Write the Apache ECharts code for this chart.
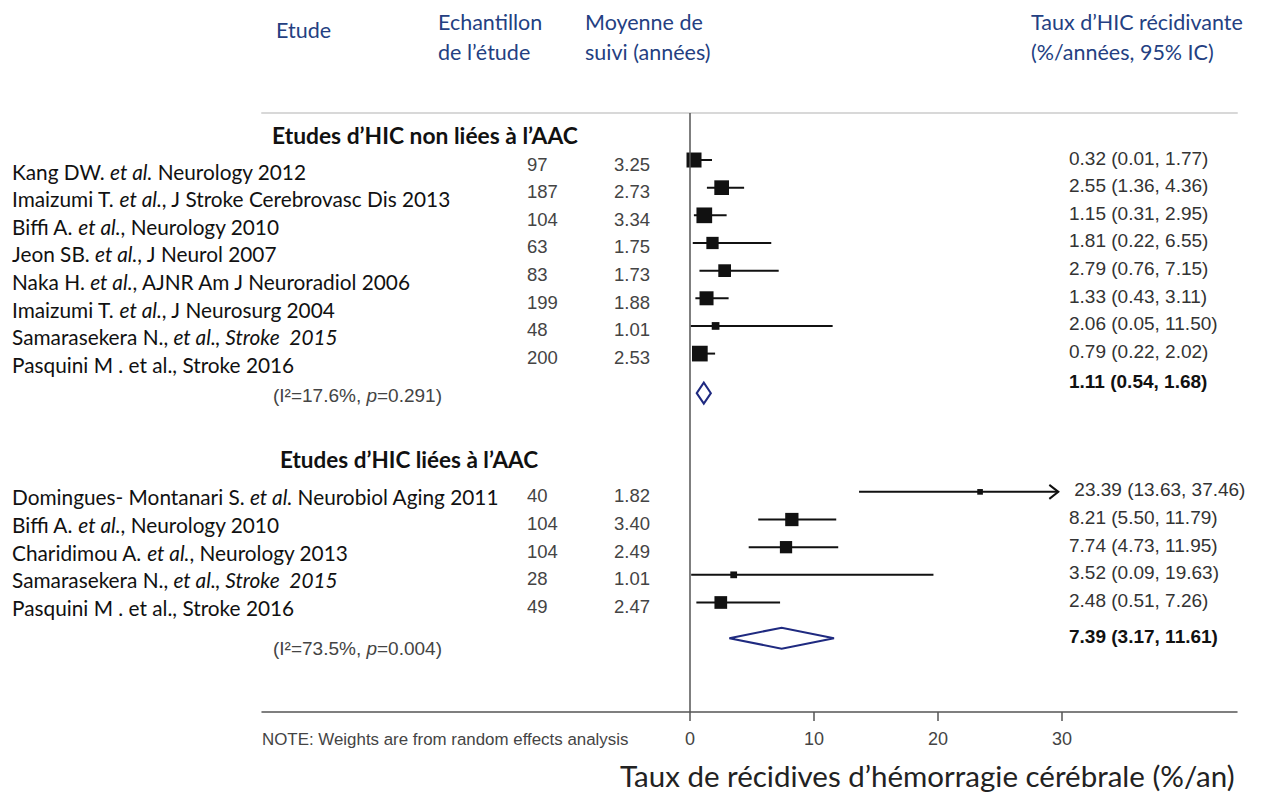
<!DOCTYPE html>
<html><head><meta charset="utf-8">
<script src="https://cdn.jsdelivr.net/npm/echarts@6/dist/echarts.min.js"></script>
<style>html,body{margin:0;padding:0;background:#fff}#c{width:1263px;height:794px}</style>
</head><body><div id="c"></div>
<script>
// ---------------- DATA ----------------
const nonCaaStudies = [
  'Kang DW. {i|et al.} Neurology 2012',
  'Imaizumi T. {i|et al.}, J Stroke Cerebrovasc Dis 2013',
  'Biffi A. {i|et al.}, Neurology 2010',
  'Jeon SB. {i|et al.}, J Neurol 2007',
  'Naka H. {i|et al.}, AJNR Am J Neuroradiol 2006',
  'Imaizumi T. {i|et al.}, J Neurosurg 2004',
  'Samarasekera N., {i|et al., Stroke  2015}',
  'Pasquini M . et al., Stroke 2016'
];
const nonCaaN = [97, 187, 104, 63, 83, 199, 48, 200];
const nonCaaFollowUp = [3.25, 2.73, 3.34, 1.75, 1.73, 1.88, 1.01, 2.53];
const nonCaaRate = [0.32, 2.55, 1.15, 1.81, 2.79, 1.33, 2.06, 0.79];
const nonCaaLow  = [0.01, 1.36, 0.31, 0.22, 0.76, 0.43, 0.05, 0.22];
const nonCaaHigh = [1.77, 4.36, 2.95, 6.55, 7.15, 3.11, 11.50, 2.02];
const nonCaaWeight = [14.8, 14.2, 16.2, 9.9, 10.6, 12.9, 3.9, 16.2];
const nonCaaPooled = [1.11, 0.54, 1.68];
const nonCaaI2 = 17.6;
const nonCaaP = '0.291';

const caaStudies = [
  'Domingues- Montanari S. {i|et al.} Neurobiol Aging 2011',
  'Biffi A. {i|et al.}, Neurology 2010',
  'Charidimou A. {i|et al.}, Neurology 2013',
  'Samarasekera N., {i|et al., Stroke  2015}',
  'Pasquini M . et al., Stroke 2016'
];
const caaN = [40, 104, 104, 28, 49];
const caaFollowUp = [1.82, 3.40, 2.49, 1.01, 2.47];
const caaRate = [23.39, 8.21, 7.74, 3.52, 2.48];
const caaLow  = [13.63, 5.50, 4.73, 0.09, 0.51];
const caaHigh = [37.46, 11.79, 11.95, 19.63, 7.26];
const caaWeight = [2.1, 11.6, 9.9, 3.0, 10.6];
const caaPooled = [7.39, 3.17, 11.61];
const caaI2 = 73.5;
const caaP = '0.004';

const axisTickValues = [0, 10, 20, 30];

// ---------------- LAYOUT ----------------
const SERIF = 'Lato, "Open Sans", sans-serif';
const ARIAL = '"Liberation Sans", Arial, sans-serif';
const NAVY = '#243f82';
const L = {
  gridLeft: 262, gridRight: 26, gridTop: 113, gridBottom: 82,
  xMin: -34.52, xMax: 44.11, yMin: -1.7, yMax: 19.96,
  clipMax: 29.7, sizeK: 3.9, diamondH: 21,
  colLabel: 12, colN: 527, colFU: 614, colCI: 1069, colHet: 273,
  labelFont: 20.8, ciFont: 19, numFont: 18.5
};
const groups = [
  {studies: nonCaaStudies, n: nonCaaN, fu: nonCaaFollowUp, rate: nonCaaRate, low: nonCaaLow, high: nonCaaHigh,
   w: nonCaaWeight, pooled: nonCaaPooled, i2: nonCaaI2, p: nonCaaP,
   firstRow: 0, pooledRow: 8.43, labelDy: 11, numDy: 4, sumDy: -12, hetDy: 2},
  {studies: caaStudies, n: caaN, fu: caaFollowUp, rate: caaRate, low: caaLow, high: caaHigh,
   w: caaWeight, pooled: caaPooled, i2: caaI2, p: caaP,
   firstRow: 12, pooledRow: 17.29, labelDy: 5, numDy: 4, sumDy: -2, hetDy: 10}
];

const studyData = [];
const pooledData = [];
groups.forEach((g, gi) => {
  g.rate.forEach((r, i) => studyData.push([r, g.low[i], g.high[i], g.firstRow + i, g.w[i], gi, i]));
  pooledData.push([g.pooled[0], g.pooled[1], g.pooled[2], g.pooledRow, gi]);
});

function txt(text, x, y, opt) {
  return {type: 'text', style: Object.assign({
    text: text, x: x, y: y, align: 'left', verticalAlign: 'middle',
    fontFamily: ARIAL, fontSize: 18, fill: '#333'
  }, opt || {})};
}

function ciLabel(est, lo, hi) {
  return est.toFixed(2) + ' (' + lo.toFixed(2) + ', ' + hi.toFixed(2) + ')';
}

function renderStudy(params, api) {
  const est = api.value(0), lo = api.value(1), hi = api.value(2), row = api.value(3), w = api.value(4);
  const g = groups[api.value(5)], i = api.value(6);
  const y = api.coord([0, row])[1];
  const xLo = api.coord([lo, row])[0];
  const clipped = hi > L.clipMax;
  const xHi = api.coord([Math.min(hi, L.clipMax), row])[0];
  const xE = api.coord([est, row])[0];
  const s = L.sizeK * Math.sqrt(w);
  const children = [
    {type: 'line', shape: {x1: xLo, y1: y, x2: xHi, y2: y}, style: {stroke: '#111', lineWidth: 2}},
    {type: 'rect', shape: {x: xE - s / 2, y: y - s / 2, width: s, height: s}, style: {fill: '#111'}}
  ];
  if (clipped) {
    children.push({type: 'polyline', shape: {points: [[xHi - 9, y - 7], [xHi, y], [xHi - 9, y + 7]]},
      style: {stroke: '#111', fill: null, lineWidth: 2}});
  }
  children.push(txt(g.studies[i], L.colLabel, y + g.labelDy, {
    fontFamily: SERIF, fontSize: L.labelFont, fill: '#111',
    rich: {i: {fontFamily: SERIF, fontSize: L.labelFont, fill: '#111', fontStyle: 'italic'}}
  }));
  children.push(txt(String(g.n[i]), L.colN, y + g.numDy, {fill: '#444', fontSize: L.numFont}));
  children.push(txt(g.fu[i].toFixed(2), L.colFU, y + g.numDy, {fill: '#444', fontSize: L.numFont}));
  const ciX = clipped ? xHi + 16 : L.colCI;
  children.push(txt(ciLabel(est, lo, hi), ciX, y - 2, {fill: '#333', fontSize: L.ciFont}));
  return {type: 'group', children: children};
}

function renderPooled(params, api) {
  const est = api.value(0), lo = api.value(1), hi = api.value(2), row = api.value(3);
  const g = groups[api.value(4)];
  const y = api.coord([0, row])[1];
  const xLo = api.coord([lo, row])[0], xHi = api.coord([hi, row])[0], xE = api.coord([est, row])[0];
  const h = L.diamondH / 2;
  return {type: 'group', children: [
    {type: 'polygon', shape: {points: [[xLo, y], [xE, y - h], [xHi, y], [xE, y + h]]},
     style: {stroke: '#1f2a80', fill: null, lineWidth: 2}},
    txt(ciLabel(est, lo, hi), L.colCI, y + g.sumDy, {fontWeight: 'bold', fill: '#111', fontSize: L.ciFont}),
    txt('(I\u00B2=' + g.i2 + '%, {i|p}=' + g.p + ')', L.colHet, y + g.hetDy,
      {fill: '#444', fontSize: 19, rich: {i: {fontFamily: ARIAL, fontSize: 19, fill: '#444', fontStyle: 'italic'}}})
  ]};
}

function gtext(text, x, y, opt) {
  return {type: 'text', x: x, y: y, style: Object.assign({
    text: text, align: 'left', verticalAlign: 'middle', textAlign: 'left', textVerticalAlign: 'middle',
    fontFamily: SERIF, fontSize: 21.5, fill: NAVY
  }, opt || {})};
}

const chart = echarts.init(document.getElementById('c'), null, {renderer: 'svg'});
chart.setOption({
  backgroundColor: '#fff',
  animation: false,
  grid: {left: L.gridLeft, right: L.gridRight, top: L.gridTop, bottom: L.gridBottom, containLabel: false},
  xAxis: [{
    type: 'value', min: L.xMin, max: L.xMax, position: 'bottom',
    splitLine: {show: false},
    axisLine: {show: true, onZero: false, lineStyle: {color: '#555', width: 1.5}},
    axisTick: {show: true, customValues: axisTickValues, length: 9, lineStyle: {color: '#555', width: 1.5}},
    axisLabel: {show: true, customValues: axisTickValues, margin: 18, fontFamily: ARIAL, fontSize: 18, color: '#444'}
  }, {
    type: 'value', min: L.xMin, max: L.xMax, position: 'top',
    splitLine: {show: false},
    axisLine: {show: true, onZero: false, lineStyle: {color: '#d8d8d8', width: 2}},
    axisTick: {show: false}, axisLabel: {show: false}
  }],
  yAxis: {type: 'value', min: L.yMin, max: L.yMax, inverse: true, show: false, splitLine: {show: false}},
  series: [{
    type: 'custom', xAxisIndex: 0, yAxisIndex: 0, clip: false,
    renderItem: renderStudy, data: studyData, silent: true,
    markLine: {silent: true, symbol: 'none', label: {show: false},
      lineStyle: {color: '#555', width: 1.5, type: 'solid'}, data: [{xAxis: 0}]}
  }, {
    type: 'custom', xAxisIndex: 0, yAxisIndex: 0, clip: false,
    renderItem: renderPooled, data: pooledData, silent: true
  }],
  graphic: [
    gtext('Etude', 276, 30),
    gtext('Echantillon', 438, 22),
    gtext('de l\u2019\u00E9tude', 438, 52),
    gtext('Moyenne de', 585, 22),
    gtext('suivi (ann\u00E9es)', 585, 52),
    gtext('Taux d\u2019HIC r\u00E9cidivante', 1031, 22),
    gtext('(%/ann\u00E9es, 95% IC)', 1031, 52),
    gtext('Etudes d\u2019HIC non li\u00E9es \u00E0 l\u2019AAC', 272, 135, {fill: '#111', fontWeight: 'bold', fontSize: 22.8}),
    gtext('Etudes d\u2019HIC li\u00E9es \u00E0 l\u2019AAC', 280, 459, {fill: '#111', fontWeight: 'bold', fontSize: 22.5}),
    gtext('NOTE: Weights are from random effects analysis', 262, 739,
      {fontFamily: ARIAL, fontSize: 16.9, fill: '#444'}),
    gtext('Taux de r\u00E9cidives d\u2019h\u00E9morragie c\u00E9r\u00E9brale (%/an)', 620, 775,
      {fontSize: 29.5, fill: '#222'})
  ]
});
</script></body></html>
